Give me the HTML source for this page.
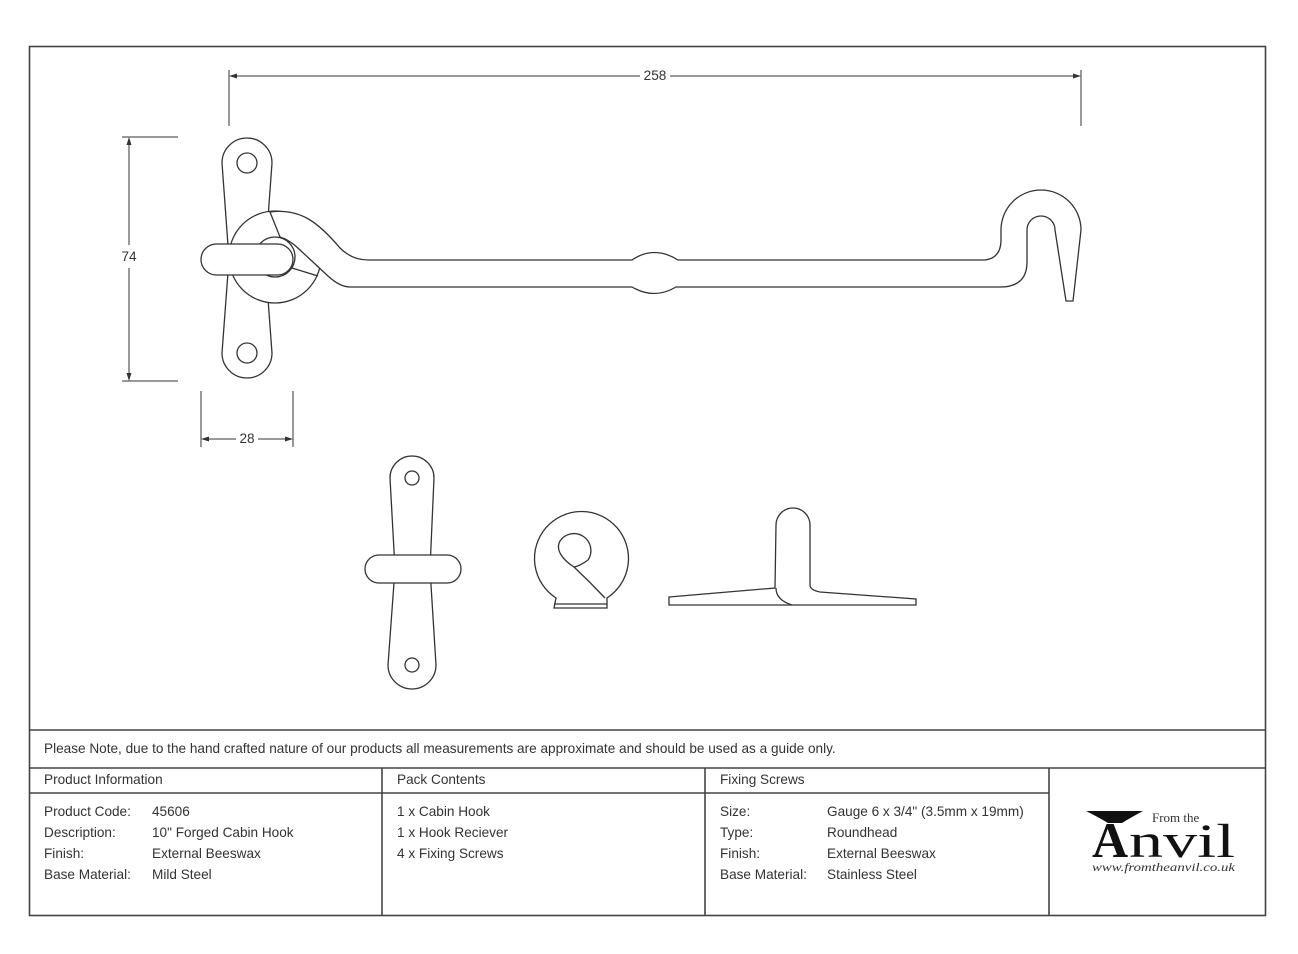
<!DOCTYPE html>
<html><head><meta charset="utf-8"><style>
html,body{margin:0;padding:0;background:#fff;}
svg{display:block;}
text{font-family:"Liberation Sans",sans-serif;fill:#333;font-size:13.6px;}
</style></head><body>
<svg width="1298" height="954" viewBox="0 0 1298 954" xmlns="http://www.w3.org/2000/svg">
<rect x="0" y="0" width="1298" height="954" fill="#fff"/>
<g fill="none" stroke="#444" stroke-width="1.6">
<rect x="29.5" y="46.5" width="1236" height="869"/>
<line x1="29" y1="730" x2="1266" y2="730"/>
<line x1="29" y1="768" x2="1266" y2="768"/>
<line x1="29" y1="793" x2="1049" y2="793"/>
<line x1="382" y1="768" x2="382" y2="916"/>
<line x1="705" y1="768" x2="705" y2="916"/>
<line x1="1049" y1="768" x2="1049" y2="916"/>
</g>
<g stroke="#333" stroke-width="1" fill="none">
<line x1="229" y1="70" x2="229" y2="126"/>
<line x1="1081" y1="70" x2="1081" y2="126"/>
<line x1="231" y1="76" x2="640" y2="76"/>
<line x1="670" y1="76" x2="1079" y2="76"/>
<line x1="122" y1="137" x2="178" y2="137"/>
<line x1="122" y1="381" x2="178" y2="381"/>
<line x1="129" y1="139" x2="129" y2="245"/>
<line x1="129" y1="268" x2="129" y2="379"/>
<line x1="201" y1="391" x2="201" y2="447"/>
<line x1="293" y1="391" x2="293" y2="447"/>
<line x1="203" y1="439" x2="236" y2="439"/>
<line x1="258" y1="439" x2="291" y2="439"/>
</g>
<g fill="#333">
<path d="M229,76 l8,-2.5 v5z"/><path d="M1081,76 l-8,-2.5 v5z"/>
<path d="M129,137 l-2.5,8 h5z"/><path d="M129,381 l-2.5,-8 h5z"/>
<path d="M201,439 l8,-2.5 v5z"/><path d="M293,439 l-8,-2.5 v5z"/>
</g>
<text x="655" y="80" text-anchor="middle" font-size="12">258</text>
<text x="129" y="261" text-anchor="middle" font-size="12">74</text>
<text x="247" y="443" text-anchor="middle" font-size="12">28</text>

<g fill="#fff" stroke="#333" stroke-width="1.3">
<path d="M222,163 A25,25 0 0 1 272,163 L265,259 L272,353 A25,25 0 0 1 222,353 L229,259 Z"/>
<circle cx="247" cy="163" r="10"/>
<circle cx="247" cy="353" r="10"/>
<circle cx="275" cy="257" r="46"/>
<circle cx="275" cy="257" r="20"/>
<path d="M270,212 C300,208 318,222 340,248 Q352,260 368,260 L632,260 Q654,245 678,260 L985,260 Q1001,258 1001,240 L1001,230 A40,40 0 0 1 1081,230 L1073,301 L1066,301 L1055,230 A14,14 0 0 0 1027,230 L1027,262 Q1027,287 1000,287 L676,287 Q654,300 632,287 L350,287 Q340,287 328,276 L300,250 Q290,240 280,237 Z"/>
<path d="M292,268 L318,276" fill="none"/>
<rect x="201" y="244" width="92" height="31" rx="15.5"/>
<path d="M390,478 A22,22 0 0 1 434,478 L430,569 L436,665 A24,24 0 0 1 388,665 L395,569 Z"/>
<circle cx="412" cy="478" r="7"/>
<circle cx="412" cy="665" r="7"/>
<rect x="365" y="555" width="96" height="28" rx="14"/>
<path d="M556,598 A47,47 0 1 1 607,598 L607,608 L554,608 Z"/>
<path d="M574,567 C563,560 555,550 560,541 A16,16 0 1 1 588,560 Q580,566 574,567 Q590,582 605,598" fill="none"/>
<line x1="554" y1="604" x2="607" y2="604"/>
<path d="M669,597 L775,588 L776,525 A17,17 0 0 1 810,525 L810,585 Q810,590 820,592 L916,599 L916,605 L669,605 Z"/>
<path d="M776,588 Q776,600 792,605" fill="none"/>
</g>

<text x="44" y="753">Please Note, due to the hand crafted nature of our products all measurements are approximate and should be used as a guide only.</text>
<text x="44" y="784">Product Information</text>
<text x="397" y="784">Pack Contents</text>
<text x="720" y="784">Fixing Screws</text>
<text x="44" y="816">Product Code:</text><text x="152" y="816">45606</text>
<text x="44" y="837">Description:</text><text x="152" y="837">10" Forged Cabin Hook</text>
<text x="44" y="858">Finish:</text><text x="152" y="858">External Beeswax</text>
<text x="44" y="879">Base Material:</text><text x="152" y="879">Mild Steel</text>
<text x="397" y="816">1 x Cabin Hook</text>
<text x="397" y="837">1 x Hook Reciever</text>
<text x="397" y="858">4 x Fixing Screws</text>
<text x="720" y="816">Size:</text><text x="827" y="816">Gauge 6 x 3/4" (3.5mm x 19mm)</text>
<text x="720" y="837">Type:</text><text x="827" y="837">Roundhead</text>
<text x="720" y="858">Finish:</text><text x="827" y="858">External Beeswax</text>
<text x="720" y="879">Base Material:</text><text x="827" y="879">Stainless Steel</text>

<path d="M1086,811 L1143,811 Q1130,818 1122,823 L1108,823 Q1098,817 1086,811 Z" fill="#111"/>
<text x="1092" y="857" style="font-family:'Liberation Serif',serif;font-size:50px;fill:#111;font-weight:bold">A</text>
<text x="1129" y="857" textLength="106" lengthAdjust="spacingAndGlyphs" style="font-family:'Liberation Serif',serif;font-size:48px;fill:#111">nvil</text>
<text x="1152" y="822" style="font-family:'Liberation Serif',serif;font-size:13px;fill:#333">From the</text>
<text x="1092" y="871" textLength="143" lengthAdjust="spacingAndGlyphs" style="font-family:'Liberation Serif',serif;font-size:11.5px;font-style:italic;fill:#333">www.fromtheanvil.co.uk</text>
</svg>
</body></html>
